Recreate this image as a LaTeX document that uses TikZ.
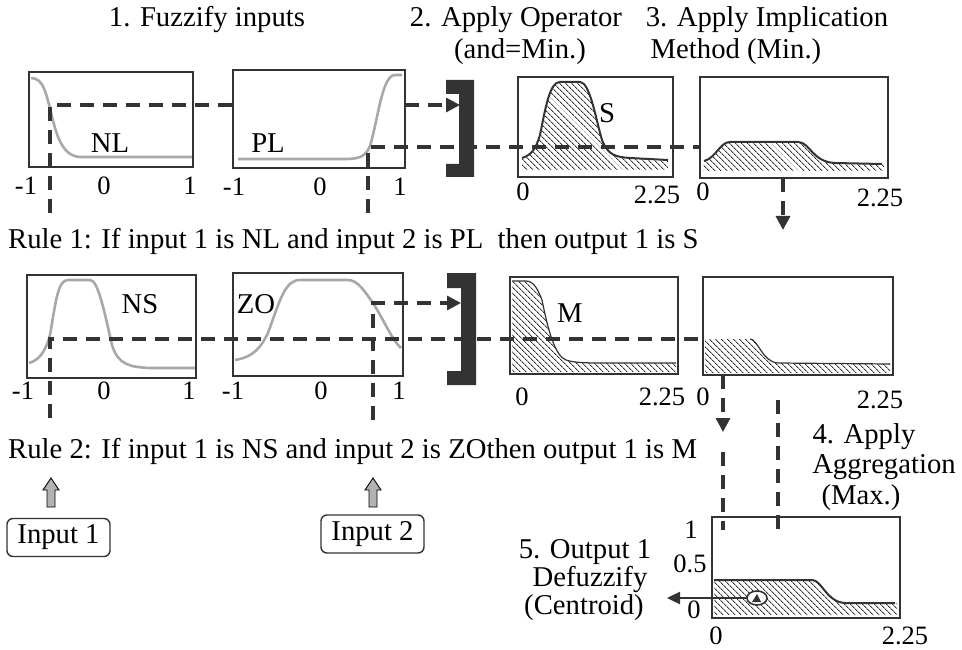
\documentclass[tikz,border=0pt]{standalone}
\usepackage{fontspec}
\setmainfont{Liberation Serif}
\usetikzlibrary{patterns.meta,arrows.meta}
\definecolor{dk}{HTML}{333333}
\definecolor{mf}{HTML}{A8A8A8}
\begin{document}
\begin{tikzpicture}[x=1pt,y=-1pt,
  box/.style={draw=dk,line width=2.6pt},
  mfcurve/.style={draw=mf,line width=2.6pt},
  outcurve/.style={draw=dk,line width=2pt},
  hatch/.style={pattern={Lines[angle=-45,distance=4pt,line width=0.9pt]},pattern color=dk},
  dsh/.style={draw=dk,line width=3.2pt,dash pattern=on 14pt off 9pt},
  dsharrow/.style={dsh,-{Triangle[length=14pt,width=14pt]}},
  lbl/.style={font=\fontsize{28.7}{31}\selectfont,inner sep=0pt},
  ax/.style={font=\fontsize{26.5}{28}\selectfont,inner sep=0pt},
  ttl/.style={font=\fontsize{28.7}{31}\selectfont,inner sep=0pt,anchor=base},
  bracketfill/.style={fill=dk},
  inbox/.style={draw=dk,line width=1.4pt,rounded corners=6pt,inner sep=0pt,minimum width=103pt,minimum height=38pt,font=\fontsize{28.7}{31}\selectfont},
  inarrow/.style={draw=black,line width=0.9pt,fill=gray!60},
]
\useasboundingbox (0,0) rectangle (962,650);

% ---------- titles ----------
\node[ttl] (t1) at (207,27) {1. Fuzzify inputs};
\node[ttl] (t2) at (516,27) {2. Apply Operator};
\node[ttl] (t2b) at (520,59) {(and=Min.)};
\node[ttl] (t3) at (767,27) {3. Apply Implication};
\node[ttl] (t3b) at (736,59) {Method (Min.)};

% ---------- hatched output areas ----------
\fill[hatch] (522,158) .. controls (532,155) and (536,148) .. (540,135) .. controls (546,105) and (550,82) .. (560,82) -- (580,82) .. controls (590,82) and (596,120) .. (602,140) .. controls (608,155) and (615,157) .. (630,158) -- (668,160) -- (668,170) -- (522,170) -- cycle;
\fill[hatch] (704,161) .. controls (716,158) and (720,142) .. (730,142) -- (798,142) .. controls (810,142) and (812,162) .. (835,163) -- (884,164) -- (884,171) -- (703,171) -- cycle;
\fill[hatch] (512,281) -- (526,281) .. controls (534,281) and (538,290) .. (542,300) .. controls (548,330) and (555,356) .. (566,360) .. controls (572,362) and (580,363) .. (600,363) -- (676,363) -- (676,372) -- (512,372) -- cycle;
\fill[hatch] (705,339) -- (750,339) .. controls (758,339) and (762,362) .. (778,363) -- (890,364) -- (890,373) -- (705,373) -- cycle;
\fill[hatch] (714,580) -- (812,580) .. controls (822,580) and (826,602) .. (845,603) -- (897,603) -- (897,615) -- (714,615) -- cycle;

% ---------- curves ----------
\draw[mfcurve] (31,78) .. controls (44,78) and (46,95) .. (50,108) .. controls (56,135) and (62,156) .. (80,157) -- (192,157);
\draw[mfcurve] (238,159) -- (345,159) .. controls (362,159) and (366,155) .. (370,146) .. controls (378,120) and (382,75) .. (395,75) -- (402,75);
\draw[mfcurve] (29,363) .. controls (40,360) and (46,350) .. (50,335) .. controls (56,300) and (58,280) .. (68,280) -- (90,280) .. controls (98,280) and (104,310) .. (112,345) .. controls (118,365) and (130,367) .. (150,368) -- (195,368);
\draw[mfcurve] (235,360) .. controls (255,357) and (262,345) .. (268,333) .. controls (280,300) and (285,280) .. (300,280) -- (348,280) .. controls (358,280) and (365,292) .. (373,303) .. controls (385,322) and (392,340) .. (401,348);
\draw[outcurve] (522,158) .. controls (532,155) and (536,148) .. (540,135) .. controls (546,105) and (550,82) .. (560,82) -- (580,82) .. controls (590,82) and (596,120) .. (602,140) .. controls (608,155) and (615,157) .. (630,158) -- (668,160);
\draw[outcurve] (704,161) .. controls (716,158) and (720,142) .. (730,142) -- (798,142) .. controls (810,142) and (812,162) .. (835,163) -- (882,164);
\draw[outcurve,line width=1.2pt] (512,281) -- (526,281) .. controls (534,281) and (538,290) .. (542,300) .. controls (548,330) and (555,356) .. (566,360) .. controls (572,362) and (580,363) .. (600,363) -- (676,363);
\draw[outcurve,line width=1.2pt] (750,339) .. controls (758,339) and (762,362) .. (778,363) -- (890,364);
\draw[outcurve] (714,580) -- (812,580) .. controls (822,580) and (826,602) .. (845,603) -- (895,603);

% ---------- plot boxes ----------
\draw[box] (29,72) rectangle (193,167);
\draw[box] (233,70) rectangle (405,168);
\draw[box] (518,77) rectangle (673,177);
\draw[box] (700,77) rectangle (888,178);
\draw[box] (27,275) rectangle (196,378);
\draw[box] (233,273) rectangle (403,376);
\draw[box] (510,277) rectangle (678,374);
\draw[box] (703,277) rectangle (893,375);
\draw[box] (712,517) rectangle (900,618);

% ---------- brackets ----------
\fill[bracketfill] (446,80) -- (474,80) -- (474,177) -- (446,177) -- (446,164) -- (459,164) -- (459,94) -- (446,94) -- cycle;
\fill[bracketfill] (447,273) -- (476,273) -- (476,385) -- (447,385) -- (447,371) -- (461,371) -- (461,288) -- (447,288) -- cycle;

% ---------- named points for connectors ----------
\coordinate (nlDown) at (50,213);
\coordinate (nlCut) at (50,105);
\coordinate (nlGap) at (233,105);
\coordinate (plOut) at (405,105);
\coordinate (br1In) at (460,105);
\coordinate (plDown) at (368,213);
\coordinate (plCut) at (368,147);
\coordinate (imp1In) at (700,147);
\coordinate (nsDown) at (50,418);
\coordinate (nsCut) at (50,339);
\coordinate (imp2In) at (703,339);
\coordinate (zoDown) at (373,420);
\coordinate (zoCut) at (373,303);
\coordinate (br2In) at (461,303);
\coordinate (imp1Out) at (783,178);
\coordinate (imp1Arr) at (783,230);
\coordinate (imp2Out) at (723,375);
\coordinate (imp2Arr) at (723,432);
\coordinate (aggA1) at (723,452);
\coordinate (aggA2) at (723,530);
\coordinate (aggB1) at (778,400);
\coordinate (aggB2) at (778,535);
\coordinate (cent) at (757,598);
\coordinate (defOut) at (667,598);

% ---------- dashed connectors ----------
\draw[dsh] (nlDown) -- (nlCut) -- (nlGap);
\draw[dsharrow] (plOut) -- (br1In);
\draw[dsh] (plDown) -- (plCut) -- (imp1In);
\draw[dsh] (nsDown) -- (nsCut) -- (imp2In);
\draw[dsharrow] (zoDown) -- (zoCut) -- (br2In);
\draw[dsharrow] (imp1Out) -- (imp1Arr);
\draw[dsharrow] (imp2Out) -- (imp2Arr);
\draw[dsh] (aggA1) -- (aggA2);
\draw[dsh] (aggB1) -- (aggB2);

% ---------- centroid ----------
\draw[dk,line width=1.6pt,fill=white] (cent) ellipse [x radius=10pt, y radius=7pt];
\fill[dk] (752,602) -- (757,594) -- (761,602) -- cycle;
\draw[dk,line width=2.4pt,-{Triangle[length=13pt,width=12pt]}] (747,598) -- (defOut);

% ---------- plot labels ----------
\node[lbl] (lNL) at (110,143) {NL};
\node[lbl] (lPL) at (268,143) {PL};
\node[lbl] (lS) at (607,113) {S};
\node[lbl] (lNS) at (140,304) {NS};
\node[lbl] (lZO) at (256,304) {ZO};
\node[lbl] (lM) at (570,313) {M};

% ---------- axis numbers ----------
\node[ax] (a1) at (26,186) {-1};
\node[ax] (a2) at (104,186) {0};
\node[ax] (a3) at (190,186) {1};
\node[ax] (a4) at (234,187) {-1};
\node[ax] (a5) at (320,187) {0};
\node[ax] (a6) at (400,187) {1};
\node[ax] (a7) at (523,192) {0};
\node[ax] (a8) at (657,195) {2.25};
\node[ax] (a9) at (703,192) {0};
\node[ax] (a10) at (880,198) {2.25};
\node[ax] (b1) at (23,391) {-1};
\node[ax] (b2) at (104,391) {0};
\node[ax] (b3) at (189,391) {1};
\node[ax] (b4) at (233,391) {-1};
\node[ax] (b5) at (321,391) {0};
\node[ax] (b6) at (399,391) {1};
\node[ax] (b7) at (522,397) {0};
\node[ax] (b8) at (662,397) {2.25};
\node[ax] (b9) at (703,397) {0};
\node[ax] (b10) at (880,400) {2.25};
\node[ax] (c1) at (691,530) {1};
\node[ax] (c2) at (690,564) {0.5};
\node[ax] (c3) at (694,610) {0};
\node[ax] (c4) at (716,636) {0};
\node[ax] (c5) at (905,636) {2.25};

% ---------- rules ----------
\node[lbl,anchor=base west] (r1) at (8,248) {Rule 1: If input 1 is NL and input 2 is PL\ \ then output 1 is S};
\node[lbl,anchor=base west] (r2) at (8,458) {Rule 2: If input 1 is NS and input 2 is ZOthen output 1 is M};

% ---------- step 4 / 5 texts ----------
\node[lbl,anchor=base] (s4a) at (864,443) {4. Apply};
\node[lbl,anchor=base] (s4b) at (884,473) {Aggregation};
\node[lbl,anchor=base] (s4c) at (861,504) {(Max.)};
\node[lbl,anchor=base] (s5a) at (585,558) {5. Output 1};
\node[lbl,anchor=base] (s5b) at (590,586) {Defuzzify};
\node[lbl,anchor=base] (s5c) at (584,614) {(Centroid)};

% ---------- inputs ----------
\node[inbox] (in1) at (58.5,537.5) {Input 1};
\node[inbox] (in2) at (372.5,534) {Input 2};
\draw[inarrow] (51,478) -- (59,490) -- (55,490) -- (55,507) -- (47,507) -- (47,490) -- (43,490) -- cycle;
\draw[inarrow] (373,478) -- (381,490) -- (377,490) -- (377,507) -- (369,507) -- (369,490) -- (365,490) -- cycle;
\end{tikzpicture}
\end{document}
